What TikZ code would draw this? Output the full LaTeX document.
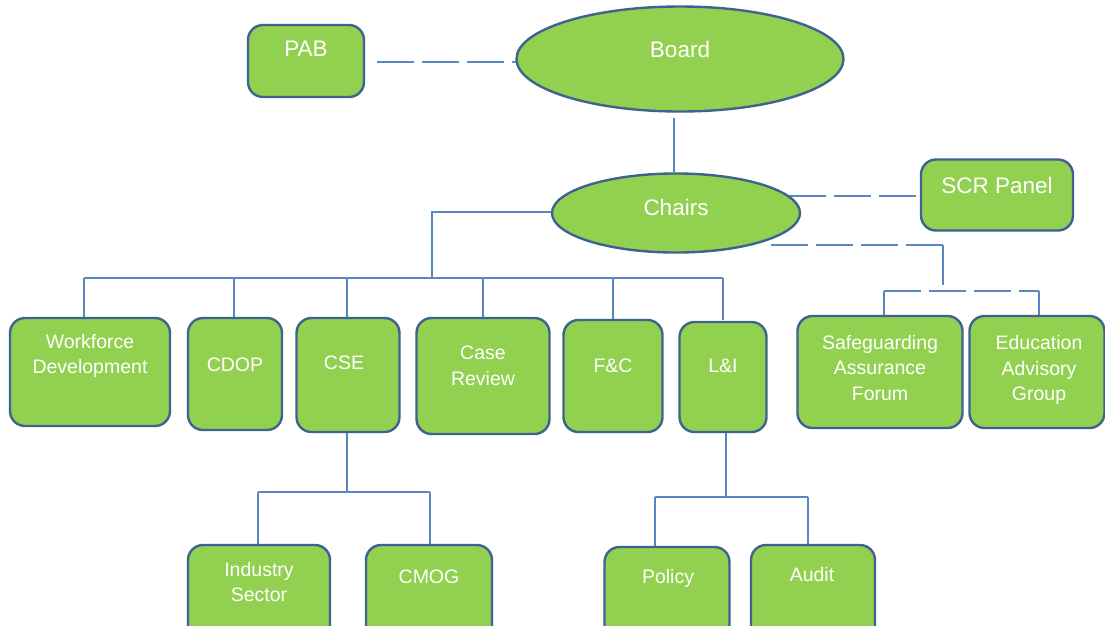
\documentclass[tikz,border=0pt]{standalone}
\usepackage{fontspec}
\setmainfont{Liberation Sans}
\usetikzlibrary{shapes.geometric}
\definecolor{boxfill}{HTML}{92D050}
\definecolor{boxedge}{HTML}{3F6291}
\definecolor{linkc}{HTML}{5B86C2}
\tikzset{
  box/.style={draw=boxedge, line width=2.4pt, fill=boxfill, rounded corners=15pt, inner sep=0pt},
  oval/.style={draw=boxedge, line width=2.4pt, fill=boxfill, ellipse, inner sep=0pt},
  bigtxt/.style={text=white, font=\fontsize{22.5}{26}\selectfont, inner sep=0pt, anchor=center},
  txt/.style={text=white, font=\fontsize{19.5}{25.5}\selectfont, inner sep=0pt, align=center, anchor=center},
  link/.style={draw=linkc, line width=1.3pt},
  dlink/.style={draw=linkc, line width=1.3pt, dash pattern=on 37pt off 8pt},
}
\begin{document}
\begin{tikzpicture}[x=1pt,y=-1pt]
\useasboundingbox (0,0) rectangle (1105,625);
\clip (0,0) rectangle (1105,625);
\fill[white] (0,0) rectangle (1105,625);

% coordinates for connectors
\coordinate (pd) at (377,62);
\coordinate (bc) at (674,118);
\coordinate (cb) at (674,172);
\coordinate (cl) at (552,212);
\coordinate (j1) at (432,212);
\coordinate (j2) at (432,278);
\coordinate (hl) at (84,278);
\coordinate (hr) at (723,278);
\coordinate (sd1) at (789,196);
\coordinate (sd2) at (771,245);
\coordinate (sd3) at (943,245);
\coordinate (sd4) at (943,285);
\coordinate (sl) at (884,291);
\coordinate (sr) at (1039,291);
\coordinate (cse1) at (347,492);
\coordinate (csel) at (258,492);
\coordinate (cser) at (430,492);
\coordinate (li1) at (726,497);
\coordinate (lil) at (655,497);
\coordinate (lir) at (808,497);

% connectors (drawn first, under the shapes)
\draw[dlink] (pd) -- (516,62);
\draw[link] (bc) -- (cb);
\draw[link] (cl) -- (j1) -- (j2);
\draw[link] (hl) -- (hr);
\foreach \x in {84,234,347,483,613,723} \draw[link] (\x,278) -- (\x,320);
\draw[dlink] (sd1) -- (921,196);
\draw[dlink] (sd2) -- (sd3);
\draw[link] (sd3) -- (sd4);
\draw[dlink] (sl) -- (sr);
\draw[link] (sl) -- (884,318);
\draw[link] (sr) -- (1039,318);
\draw[link] (347,432) -- (cse1);
\draw[link] (csel) -- (cser);
\draw[link] (csel) -- (258,546);
\draw[link] (cser) -- (430,546);
\draw[link] (726,432) -- (li1);
\draw[link] (lil) -- (lir);
\draw[link] (lil) -- (655,548);
\draw[link] (lir) -- (808,546);

% top shapes
\node[box, minimum width=116pt, minimum height=72pt] (pab) at (306,61) {};
\node[bigtxt] (pabt) at (306,49) {PAB};
\node[oval, minimum width=327pt, minimum height=105pt] (board) at (680,59) {};
\node[bigtxt] (boardt) at (680,49) {Board};
\node[oval, minimum width=248pt, minimum height=79pt] (chairs) at (676,213) {};
\node[bigtxt] (chairst) at (676,207) {Chairs};
\node[box, minimum width=152pt, minimum height=71pt] (scr) at (997,195) {};
\node[bigtxt] (scrt) at (997,185) {SCR Panel};

% second row
\node[box, minimum width=160pt, minimum height=108pt] (wd) at (90,372) {};
\node[txt] (wdt) at (90,356) {Workforce\\Development};
\node[box, minimum width=94pt, minimum height=112pt] (cdop) at (235,374) {};
\node[txt] (cdopt) at (235,365) {CDOP};
\node[box, minimum width=103pt, minimum height=114pt] (cse) at (348,375) {};
\node[txt] (cset) at (344,363) {CSE};
\node[box, minimum width=133pt, minimum height=116pt] (cr) at (483,376) {};
\node[txt] (crt) at (483,366) {Case\\Review};
\node[box, minimum width=99pt, minimum height=112pt] (fc) at (613,376) {};
\node[txt] (fct) at (613,366) {F\&C};
\node[box, minimum width=87pt, minimum height=110pt] (li) at (723,377) {};
\node[txt] (lit) at (723,366) {L\&I};
\node[box, minimum width=165pt, minimum height=112pt] (saf) at (880,372) {};
\node[txt] (saft) at (880,368) {Safeguarding\\Assurance\\Forum};
\node[box, minimum width=135pt, minimum height=112pt] (eag) at (1037,372) {};
\node[txt] (eagt) at (1039,370) {Education\\Advisory\\Group};

% third row
\node[box, minimum width=142pt, minimum height=100pt] (ind) at (259,595) {};
\node[txt] (indt) at (259,582) {Industry\\Sector};
\node[box, minimum width=126pt, minimum height=100pt] (cmog) at (429,595) {};
\node[txt] (cmogt) at (429,577) {CMOG};
\node[box, minimum width=125pt, minimum height=100pt] (pol) at (667,597) {};
\node[txt] (polt) at (668,578) {Policy};
\node[box, minimum width=124pt, minimum height=100pt] (aud) at (813,595) {};
\node[txt] (audt) at (812,575) {Audit};
\end{tikzpicture}
\end{document}
